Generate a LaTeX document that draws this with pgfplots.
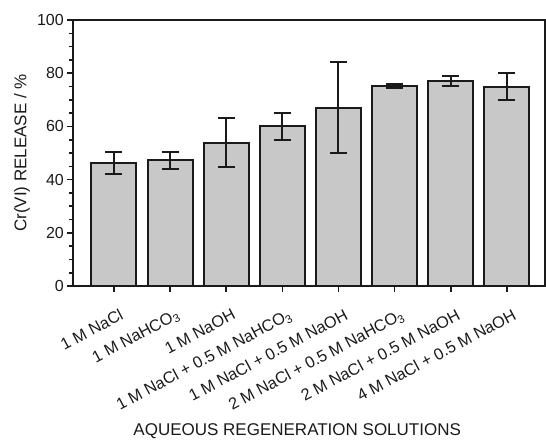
\documentclass[border=0pt]{standalone}
\usepackage{pgfplots}
\pgfplotsset{compat=1.18}
\usepackage{fontspec}
\setmainfont{Liberation Sans}
\definecolor{barfill}{HTML}{C8C8C8}
\definecolor{ink}{HTML}{1A1A1A}
\begin{document}
\begin{tikzpicture}
\useasboundingbox (-73pt,-153pt) rectangle (473pt,286pt);
\begin{axis}[
  scale only axis,
  width=472pt, height=266pt,
  at={(0,0)}, anchor=south west,
  xmin=-0.73, xmax=7.68,
  ymin=0, ymax=100,
  ybar, bar width=45pt,
  xtick={0,1,2,3,4,5,6,7},
  xticklabels={1 M NaCl,1 M NaHCO\textsubscript{3},1 M NaOH,1 M NaCl + 0.5 M NaHCO\textsubscript{3},1 M NaCl + 0.5 M NaOH,2 M NaCl + 0.5 M NaHCO\textsubscript{3},2 M NaCl + 0.5 M NaOH,4 M NaCl + 0.5 M NaOH},
  ytick={0,20,40,60,80,100},
  minor y tick num=3,
  tick align=outside,
  xtick pos=bottom, ytick pos=left,
  major tick length=6pt, minor tick length=3.5pt,
  every tick/.style={ink, line width=1.6pt},
  axis line style={ink, line width=1.6pt},
  /pgf/number format/assume math mode=true,
  ticklabel style={text=ink},
  yticklabel style={font=\fontsize{16}{16}\selectfont, inner sep=3pt},
  xticklabel style={font=\fontsize{16.3}{16.3}\selectfont, xshift=5pt, yshift=-16pt, rotate=28, anchor=north east, inner sep=0pt},
  xlabel={AQUEOUS REGENERATION SOLUTIONS},
  ylabel={Cr(VI) RELEASE / \%},
  label style={font=\fontsize{17}{17}\selectfont, text=ink},
  xlabel style={at={(axis description cs:0.475,-0.563)}, anchor=base},
  ylabel style={at={(axis description cs:-0.108,0.5)}, anchor=center},
]
\addplot[fill=barfill, draw=ink, line width=2pt,
  error bars/.cd, y dir=both, y explicit,
  error bar style={line width=2pt, ink},
  error mark options={line width=2pt, mark size=8.5pt, rotate=90, ink}]
  coordinates {
  (0,46.3) +- (0,4.1)
  (1,47.3) +- (0,3.2)
  (2,53.9) +- (0,9.2)
  (3,60.0) +- (0,5.2)
  (4,67.1) +- (0,17.2)
  (5,75.3) +- (0,0.7)
  (6,77.2) +- (0,1.9)
  (7,75.0) +- (0,5.2)
  };
\end{axis}
\end{tikzpicture}
\end{document}
